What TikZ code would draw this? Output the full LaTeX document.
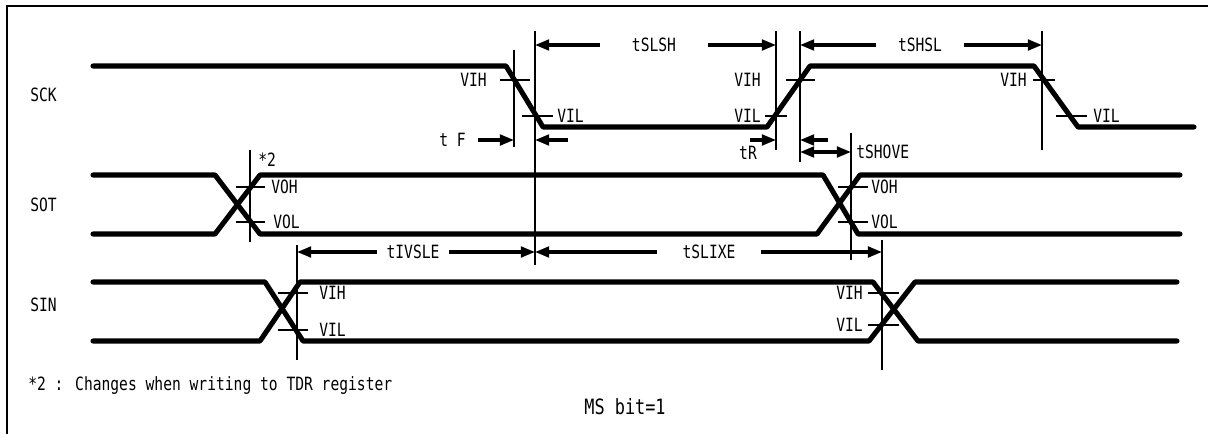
\documentclass[tikz,border=0pt]{standalone}
\usepackage{fontspec}
\setmainfont[FakeStretch=0.8]{DejaVu Sans Mono}
\usepackage{tikz}
\usetikzlibrary{arrows.meta, calc}

\begin{document}
\begin{tikzpicture}[x=0.025cm, y=-0.025cm,
		wave/.style={line width=3.6pt, line cap=round, line join=round},
		guide/.style={line width=0.9pt},
		tick/.style={line width=0.9pt},
		dimarrow/.style={line width=2.2pt, -{Triangle[length=10pt, width=7.5pt]}},
		dimboth/.style={line width=2.2pt, {Triangle[length=10pt, width=7.5pt]}-{Triangle[length=10pt, width=7.5pt]}},
		txt/.style={inner sep=0pt, font=\fontsize{13}{15}\selectfont}]
		
		\useasboundingbox (0,0) rectangle (1208,434);
		
		%frame
		\draw [line width=1.2pt] (7,434) -- (7,6) -- (1208,6);
		
		%definition of levels
		\def\sckH{66};
		\def\sckL{127};
		\def\sotH{175};
		\def\sotL{234};
		\def\sinH{282};
		\def\sinL{341};
		
		%definition of guide lines (top ends)
		\coordinate (gF) at (514,50);
		\coordinate (gS) at (535,31);
		\coordinate (gR) at (776,31);
		\coordinate (gH) at (800,31);
		\coordinate (gV) at (851,133);
		\coordinate (gL) at (1042,31);
		\coordinate (gO) at (250,150);
		\coordinate (gI) at (297,245);
		\coordinate (gX) at (882,240);
		
		%signal names
		\node [txt, anchor=west] (SCK) at (30,95) {SCK};
		\node [txt, anchor=west] (SOT) at (30,205) {SOT};
		\node [txt, anchor=west] (SIN) at (30,305) {SIN};
		
		%waveforms
		\draw [wave] (93,\sckH) -- (506,\sckH) -- (543,\sckL) -- (767,\sckL) -- (810,\sckH) -- (1034,\sckH) -- (1078,\sckL) -- (1194,\sckL);
		\draw [wave] (93,\sotH) -- (215,\sotH) -- (260,\sotL) -- (817,\sotL) -- (860,\sotH) -- (1180,\sotH);
		\draw [wave] (93,\sotL) -- (215,\sotL) -- (260,\sotH) -- (823,\sotH) -- (858,\sotL) -- (1180,\sotL);
		\draw [wave] (93,\sinH) -- (265,\sinH) -- (303,\sinL) -- (869,\sinL) -- (915,\sinH) -- (1177,\sinH);
		\draw [wave] (93,\sinL) -- (260,\sinL) -- (300,\sinH) -- (873,\sinH) -- (918,\sinL) -- (1177,\sinL);
		
		%guide lines
		\draw [guide] (gF) -- ++(0,97);
		\draw [guide] (gS) -- ++(0,234);
		\draw [guide] (gR) -- ++(0,119);
		\draw [guide] (gH) -- ++(0,131);
		\draw [guide] (gV) -- ++(0,127);
		\draw [guide] (gL) -- ++(0,119);
		\draw [guide] (gO) -- ++(0,92);
		\draw [guide] (gI) -- ++(0,115);
		\draw [guide] (gX) -- ++(0,130);
		
		%thresholds SCK
		\draw [tick] (500,80) -- (530,80);
		\draw [tick] (522,116) -- (553,116);
		\draw [tick] (786,80) -- (815,80);
		\draw [tick] (765,116) -- (787,116);
		\draw [tick] (1033,80) -- (1055,80);
		\draw [tick] (1056,116) -- (1087,116);
		\node [txt, anchor=east] (vihA) at (487,80) {VIH};
		\node [txt, anchor=west] (vilA) at (557,116) {VIL};
		\node [txt, anchor=east] (vihB) at (761,80) {VIH};
		\node [txt, anchor=east] (vilB) at (761,116) {VIL};
		\node [txt, anchor=east] (vihC) at (1027,80) {VIH};
		\node [txt, anchor=west] (vilC) at (1093,116) {VIL};
		
		%thresholds SOT
		\draw [tick] (236,187) -- (265,187);
		\draw [tick] (236,222) -- (265,222);
		\draw [tick] (838,187) -- (868,187);
		\draw [tick] (838,222) -- (868,222);
		\node [txt, anchor=west] (vohA) at (271,187) {VOH};
		\node [txt, anchor=west] (volA) at (273,222) {VOL};
		\node [txt, anchor=west] (vohB) at (871,187) {VOH};
		\node [txt, anchor=west] (volB) at (871,222) {VOL};
		\node [txt, anchor=west] (star) at (258,160) {*2};
		
		%thresholds SIN
		\draw [tick] (278,293) -- (308,293);
		\draw [tick] (278,330) -- (308,330);
		\draw [tick] (868,293) -- (899,293);
		\draw [tick] (868,325) -- (899,325);
		\node [txt, anchor=west] (vihD) at (319,293) {VIH};
		\node [txt, anchor=west] (vilD) at (319,330) {VIL};
		\node [txt, anchor=east] (vihE) at (863,293) {VIH};
		\node [txt, anchor=east] (vilE) at (863,325) {VIL};
		
		%timing labels
		\node [txt, minimum width=2.7cm] (tSLSH) at (654,45) {tSLSH};
		\node [txt, minimum width=2.175cm] (tSHSL) at (920,45) {tSHSL};
		\node [txt, minimum width=1.8cm] (tIVSLE) at (413,252) {tIVSLE};
		\node [txt, minimum width=2.575cm] (tSLIXE) at (709,252) {tSLIXE};
		\node [txt, anchor=east] (tF) at (466,140) {t F};
		\node [txt] (tR) at (748,153) {tR};
		\node [txt, anchor=west] (tSHOVE) at (856,152) {tSHOVE};
		
		%timing arrows
		\draw [dimarrow] (tSLSH.west) -- (tSLSH.west -| gS);
		\draw [dimarrow] (tSLSH.east) -- (tSLSH.east -| gR);
		\draw [dimarrow] (tSHSL.west) -- (tSHSL.west -| gH);
		\draw [dimarrow] (tSHSL.east) -- (tSHSL.east -| gL);
		\draw [dimarrow] (tIVSLE.west) -- (tIVSLE.west -| gI);
		\draw [dimarrow] (tIVSLE.east) -- (tIVSLE.east -| gS);
		\draw [dimarrow] (tSLIXE.west) -- (tSLIXE.west -| gS);
		\draw [dimarrow] (tSLIXE.east) -- (tSLIXE.east -| gX);
		\draw [dimarrow] ($(tF.east)+(12,0)$) -- (tF.east -| gF);
		\draw [dimarrow] ($(gS |- tF.east)+(33,0)$) -- (gS |- tF.east);
		\draw [dimarrow] (750,140) -- (gR |- 750,140);
		\draw [dimarrow] (828,140) -- (gH |- 828,140);
		\draw [dimboth] (gH |- tSHOVE.west) -- (gV |- tSHOVE.west);
		
		%notes
		\node [txt, anchor=west] (note) at (28,386) {*2 : Changes when writing to TDR register};
		\node [txt, font=\fontsize{15}{17}\selectfont] (msbit) at (625,407) {MS bit=1};
	\end{tikzpicture}
\end{document}
